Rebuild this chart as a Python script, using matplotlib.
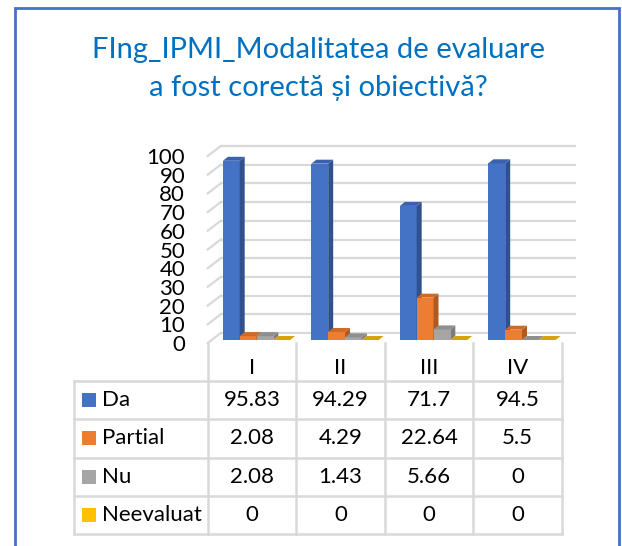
import matplotlib.pyplot as plt
from matplotlib.patches import Polygon, Rectangle
from matplotlib.lines import Line2D
from matplotlib.transforms import ScaledTranslation, IdentityTransform, blended_transform_factory

plt.rcParams['font.family'] = ['Lato', 'DejaVu Sans']

categories = ['I', 'II', 'III', 'IV']
series = ['Da', 'Partial', 'Nu', 'Neevaluat']
da = [95.83, 94.29, 71.7, 94.5]
partial = [2.08, 4.29, 22.64, 5.5]
nu = [2.08, 1.43, 5.66, 0]
neevaluat = [0, 0, 0, 0]
values = [da, partial, nu, neevaluat]
y_ticks = list(range(0, 101, 10))

front_colors = ['#4472C4', '#ED7D31', '#A5A5A5', '#FFC000']
side_colors = ['#2F528F', '#AE5A21', '#7C7C7C', '#BF9000']
top_colors = ['#3A62AC', '#CC6A27', '#8F8F8F', '#D4A20A']
grid_color = '#D9D9D9'

W, H = 622, 546
fig = plt.figure(figsize=(W / 100, H / 100), dpi=100)


def fx(px):
    return px / W


def fy(py):
    return 1 - py / H


# axes spans the plane where the bar fronts sit
ax = fig.add_axes([fx(212.25), fy(340), 354 / W, 187 / H])
ax.set_xlim(-0.5, 3.5)
ax.set_ylim(0, 100)
ax.axis('off')


def shifted(dx, dy):
    # offset in pixels, dy positive = down
    return ax.transData + ScaledTranslation(dx / 100, -dy / 100, fig.dpi_scale_trans)


back = shifted(8.5, -7)
front = shifted(-4.5, 3)

# back wall gridlines and the slanted side-wall lines
for v in y_ticks:
    ax.plot([-0.5, 3.5], [v, v], transform=back, color=grid_color, lw=1.6,
            clip_on=False, zorder=0)
    p0 = front.transform((-0.5, v))
    p1 = back.transform((-0.5, v))
    fig.add_artist(Line2D([p0[0], p1[0]], [p0[1], p1[1]], transform=IdentityTransform(),
                          color=grid_color, lw=1.6, zorder=0))
    ax.text(-0.5, v, str(v), transform=shifted(-27, 5), ha='right', va='center',
            fontsize=16, color='black')

# 3d-looking columns
w = 0.19
px_x = 354 / 4.0
px_y = 187 / 100.0
ddx = 5 / px_x
ddy = 4 / px_y
for j, vals in enumerate(values):
    for i, h in enumerate(vals):
        x0 = i + (j - 1.5) * w - w / 2
        x1 = x0 + w
        ax.bar(x0, h, width=w, align='edge', color=front_colors[j], lw=0, zorder=2 + j)
        ax.add_patch(Polygon([(x1, 0), (x1, h), (x1 + ddx, h + ddy), (x1 + ddx, ddy)],
                             closed=True, facecolor=side_colors[j], lw=0, zorder=2 + j,
                             clip_on=False))
        ax.add_patch(Polygon([(x0, h), (x1, h), (x1 + ddx, h + ddy), (x0 + ddx, h + ddy)],
                             closed=True, facecolor=top_colors[j], lw=0, zorder=2 + j,
                             clip_on=False))

# data table under the chart
col_tr = blended_transform_factory(front, fig.transFigure)
row_edges = [381, 419.3, 457.6, 496, 534]
table_left = 74
right_px = front.transform((3.5, 0))[0]

for k in range(len(categories) + 1):
    fig.add_artist(Line2D([k - 0.5, k - 0.5], [fy(343), fy(534)], transform=col_tr,
                          color=grid_color, lw=1.8))
fig.add_artist(Line2D([fx(table_left), fx(table_left)], [fy(381), fy(534)],
                      transform=fig.transFigure, color=grid_color, lw=1.8))
for r in row_edges:
    fig.add_artist(Line2D([fx(table_left), fx(right_px)], [fy(r), fy(r)],
                          transform=fig.transFigure, color=grid_color, lw=1.8))

for i, cat in enumerate(categories):
    fig.text(i, fy(368), cat, transform=col_tr, ha='center', va='center',
             fontsize=16, color='black')

for j, name in enumerate(series):
    yc = (row_edges[j] + row_edges[j + 1]) / 2
    fig.add_artist(Rectangle((fx(82), fy(yc + 7)), 14 / W, 14 / H,
                             transform=fig.transFigure, facecolor=front_colors[j], lw=0))
    fig.text(fx(102), fy(yc), name, ha='left', va='center', fontsize=16, color='black')
    for i, v in enumerate(values[j]):
        fig.text(i, fy(yc), f'{v:g}', transform=col_tr, ha='center', va='center',
                 fontsize=16, color='black')

# title
title_color = '#0070C0'
fig.text(fx(318), fy(58), 'FIng_IPMI_Modalitatea de evaluare', ha='center',
         va='baseline', fontsize=21, color=title_color)
fig.text(fx(318), fy(96), 'a fost corectă și obiectivă?', ha='center',
         va='baseline', fontsize=21, color=title_color)

# chart border
fig.add_artist(Rectangle((fx(15), fy(560)), 604 / W, 552 / H, transform=fig.transFigure,
                         facecolor='none', edgecolor='#4472C4', lw=2))

fig.savefig('out.png', dpi=100)
plt.close(fig)
